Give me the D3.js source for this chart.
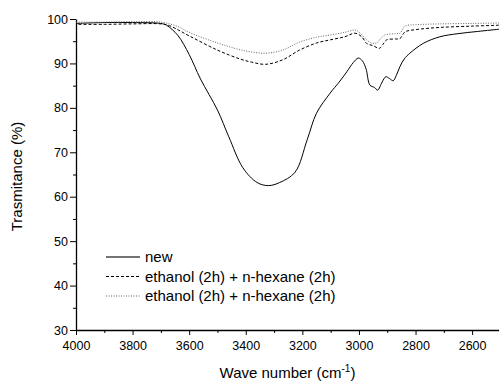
<!DOCTYPE html>
<html>
<head>
<meta charset="utf-8">
<script src="https://cdn.jsdelivr.net/npm/d3@7"></script>
<style>
	body { margin: 0; background: #fff; }
	svg { display: block; font-family: Arial, "Liberation Sans", sans-serif; }
	.tick text { font-size: 12.5px; fill: #000; }
	.domain, .tick line { stroke: #000; }
</style>
</head>
<body>
<svg id="chart" width="499" height="382"></svg>
<script>

// FTIR spectra
const waveNew = [4000,3900,3800,3700,3680,3640,3600,3560,3500,3460,3410,3360,3320,3280,3226,3183,3150,3102,3070,3043,3020,3002,2988,2975,2961,2945,2934,2918,2905,2892,2879,2868,2855,2840,2820,2773,2714,2650,2580,2505]
const valNew  = [99.0,99.2,99.2,99.0,98.6,96.3,92.0,86.5,79.5,73.5,66.5,63.2,62.5,63.2,65.5,72.8,78.8,83.3,85.8,88.1,90.2,91.2,90.6,88.8,85.1,84.6,84.0,85.8,87.0,86.6,86.1,87.3,89.3,91.0,92.3,94.5,96.0,96.7,97.2,97.7]

const waveDash = [4000,3900,3800,3700,3670,3600,3500,3420,3380,3330,3270,3210,3150,3102,3050,3014,2990,2973,2950,2928,2915,2902,2870,2855,2837,2800,2714,2600,2505]
const valDash  = [98.8,98.8,98.9,98.9,98.5,96.2,93.0,91.0,90.3,89.8,90.8,93.0,94.6,95.3,96.0,96.8,96.0,94.5,94.0,93.4,94.3,95.3,95.5,95.6,97.1,97.6,98.1,98.4,98.6]

const waveDot = [4000,3900,3800,3700,3640,3600,3500,3400,3330,3270,3210,3150,3102,3050,3014,2995,2973,2955,2938,2920,2908,2870,2855,2837,2800,2714,2600,2505]
const valDot  = [99.3,99.3,99.4,99.3,98.3,97.0,94.6,92.8,92.3,93.0,94.8,95.9,96.4,97.0,97.5,96.8,95.3,94.6,94.6,95.8,96.4,96.7,96.8,98.4,98.7,98.9,99.0,99.1]

const legendLabels = ['new', 'ethanol (2h) + n-hexane (2h)', 'ethanol (2h) + n-hexane (2h)']
const xTicks = [4000,3800,3600,3400,3200,3000,2800,2600]
const yTicks = [30,40,50,60,70,80,90,100]

const series = [
	{name: legendLabels[0], wave: waveNew, val: valNew, stroke: '#000', dash: null},
	{name: legendLabels[1], wave: waveDash, val: valDash, stroke: '#000', dash: '3,2'},
	{name: legendLabels[2], wave: waveDot, val: valDot, stroke: '#666', dash: '1,1.5'}
]

const svg = d3.select('#chart')
const mLeft = 76, mRight = 499, mTop = 19, mBottom = 330

const x = d3.scaleLinear().domain([4000, 2505]).range([mLeft, mRight])
const y = d3.scaleLinear().domain([30, 100]).range([mBottom, mTop])

// minor ticks first, then major with labels
svg.append('g')
	.attr('transform', `translate(0,${mBottom})`)
	.call(d3.axisBottom(x).tickValues(d3.range(3900, 2500, -200)).tickSize(3).tickFormat(''))
	.call(g => g.select('.domain').remove())

svg.append('g')
	.attr('transform', `translate(0,${mBottom})`)
	.call(d3.axisBottom(x).tickValues(xTicks).tickSize(5).tickSizeOuter(0).tickPadding(6).tickFormat(d3.format('d')))

svg.append('g')
	.attr('transform', `translate(${mLeft},0)`)
	.call(d3.axisLeft(y).tickValues(d3.range(35, 100, 10)).tickSize(3).tickFormat(''))
	.call(g => g.select('.domain').remove())

svg.append('g')
	.attr('transform', `translate(${mLeft},0)`)
	.call(d3.axisLeft(y).tickValues(yTicks).tickSize(6).tickSizeOuter(0).tickPadding(2))

svg.selectAll('.domain').attr('stroke-width', 1.3)

const line = d3.line()
	.x(d => x(d[0]))
	.y(d => y(d[1]))
	.curve(d3.curveCatmullRom.alpha(0.5))

svg.append('g').selectAll('path')
	.data(series)
	.enter()
	.append('path')
	.attr('d', s => line(s.wave.map((w, i) => [w, s.val[i]]).reverse()))
	.attr('fill', 'none')
	.attr('stroke', s => s.stroke)
	.attr('stroke-width', 1)
	.attr('stroke-dasharray', s => s.dash)

// legend
const legend = svg.append('g')
series.forEach((s, i) => {
	let yy = 257 + i * 19.5
	legend.append('line')
		.attr('x1', 106).attr('x2', 140)
		.attr('y1', yy).attr('y2', yy)
		.attr('stroke', i == 0 ? '#444' : s.stroke)
		.attr('stroke-width', i == 0 ? 1.5 : 1)
		.attr('stroke-dasharray', s.dash)
	legend.append('text')
		.attr('x', 145).attr('y', yy + 5)
		.attr('font-size', 15)
		.text(s.name)
})

// axis titles
const xt = svg.append('text')
	.attr('x', (mLeft + mRight) / 2).attr('y', 378)
	.attr('text-anchor', 'middle')
	.attr('font-size', 15)
xt.append('tspan').text('Wave number (cm')
xt.append('tspan').attr('dy', -6).attr('font-size', 10).text('-1')
xt.append('tspan').attr('dy', 6).text(')')

svg.append('text')
	.attr('transform', `translate(21.5,${(mTop + mBottom) / 2 + 2}) rotate(-90)`)
	.attr('text-anchor', 'middle')
	.attr('font-size', 15)
	.text('Trasmitance (%)')

</script>
</body>
</html>
